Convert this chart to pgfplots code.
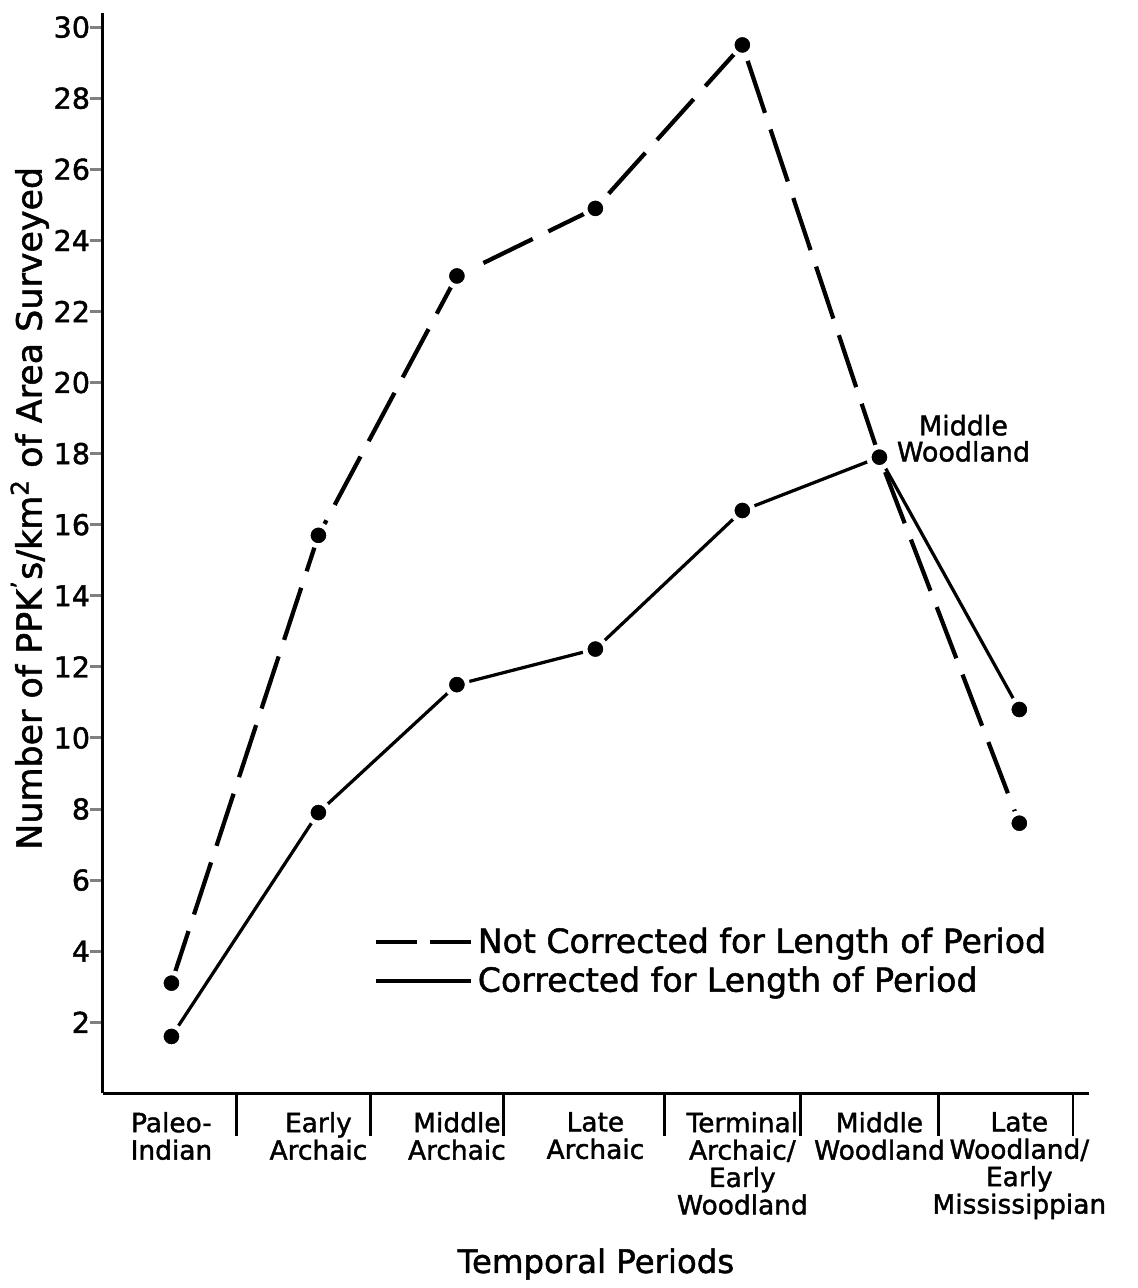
\documentclass[border=0pt]{standalone}
\usepackage{pgfplots}
\pgfplotsset{compat=1.18}
\usepackage{fontspec}
\setmainfont{DejaVu Sans}[FakeBold=1.5]
\begin{document}
\begin{tikzpicture}
\begin{axis}[
  scale only axis,
  width=396pt, height=433.6pt,
  xmin=-0.487, xmax=6.495,
  ymin=0, ymax=30.4,
  axis lines=left,
  axis line style={-, line width=1.4pt},
  tick align=outside,
  ytick={2,4,...,30},
  yticklabel style={font=\fontsize{11.5}{14}\selectfont, xshift=3.5pt},
  ytick style={line width=1.2pt},
  major tick length=5pt,
  /pgf/number format/assume math mode=true,
  xtick={0,1.04,2.02,3,4.04,5.01,6},
  xticklabels={{Paleo-\\Indian},{Early\\Archaic},{Middle\\Archaic},{Late\\Archaic},{Terminal\\Archaic/\\Early\\Woodland},{Middle\\Woodland},{Late\\Woodland/\\Early\\Mississippian}},
  xticklabel style={font=\fontsize{10.6}{11}\selectfont, align=center, anchor=north, yshift=1pt},
  x tick style={draw=none},
  extra x ticks={0.46,1.41,2.35,3.49,4.45,5.43,6.38},
  extra x tick labels={},
  extra x tick style={x tick style={draw=black, line width=1.1pt}, major tick length=17pt},
  xlabel={Temporal Periods},
  xlabel style={font=\fontsize{13}{15}\selectfont, at={(rel axis cs:0.5,-0.158)}, anchor=center},
  ylabel={Number of PPK\textsuperscript{\textquoteright}s/km\textsuperscript{2} of Area Surveyed},
  ylabel style={font=\fontsize{14}{16}\selectfont, at={(ticklabel cs:0.5415)}, yshift=-5pt},
  clip=false,
  legend style={at={(rel axis cs:0.275,0.122)}, anchor=west, draw=none, fill=none,
    font=\fontsize{13.3}{16}\selectfont, row sep=0pt, inner sep=0pt,
    /tikz/column 2/.style={column sep=9pt}},
  legend cell align=left,
]
\path (rel axis cs:-0.104,-0.176) rectangle (rel axis cs:1.0485,1.012);
\addplot[black, line width=1.7pt, dash pattern=on 22pt off 7pt,
  mark=*, mark size=4.2pt, mark options={solid, fill=black, draw=white, line width=2pt},
  legend image code/.code={\draw[black, line width=1.5pt] (0pt,0pt) -- (16.5pt,0pt) (21.5pt,0pt) -- (38pt,0pt);}]
  coordinates {(0,3.1) (1.04,15.7) (2.02,23.0) (3,24.9) (4.04,29.5) (5.01,17.9) (6,7.6)};
\addlegendentry{Not Corrected for Length of Period}
\addplot[black, line width=1.3pt,
  mark=*, mark size=4.2pt, mark options={solid, fill=black, draw=white, line width=2pt},
  legend image code/.code={\draw[black, line width=1.5pt] (0pt,0pt) -- (38pt,0pt);}]
  coordinates {(0,1.6) (1.04,7.9) (2.02,11.5) (3,12.5) (4.04,16.4) (5.01,17.9) (6,10.8)};
\addlegendentry{Corrected for Length of Period}
\node[align=center, anchor=west, inner sep=0pt, font=\fontsize{10.8}{10.5}\selectfont] at (axis cs:5.13,18.43) {Middle\\Woodland};
\end{axis}
\end{tikzpicture}
\end{document}
